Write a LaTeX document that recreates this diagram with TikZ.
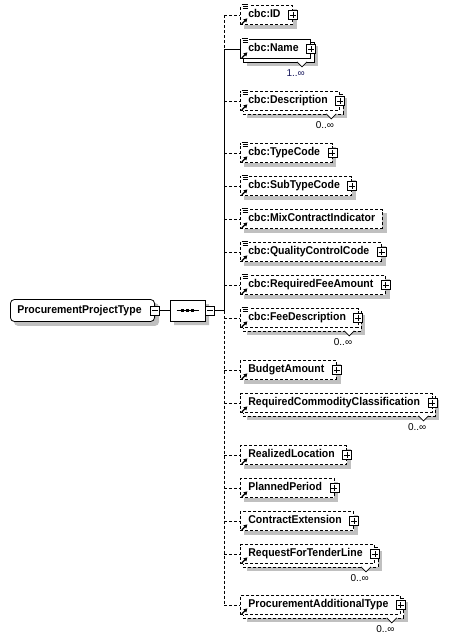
\documentclass[tikz,border=0pt]{standalone}
\usepackage{fontspec}
\setmainfont{Liberation Sans}[FakeStretch=0.93]
\newfontfamily\multfont{Liberation Sans}
\usetikzlibrary{calc,backgrounds,shapes.misc,arrows.meta}
\definecolor{shadowc}{RGB}{192,192,192}
\definecolor{multc}{RGB}{20,20,90}
\tikzset{
  boxline/.style={line width=0.8pt},
  opt/.style={dash pattern=on 3pt off 2pt},
  elbox/.style={boxline, draw, fill=white, inner xsep=0pt, inner ysep=0pt,
    minimum height=19pt, anchor=west, text height=8pt, text depth=2.2pt,
    font=\fontsize{11.3}{13}\selectfont\bfseries},
  pm/.style={draw, fill=white, minimum size=9pt, inner sep=0pt, line width=0.7pt},
  mult/.style={inner sep=0pt, font=\multfont\fontsize{10}{11}\selectfont},
  conn/.style={line width=0.8pt},
}
\newcommand\XShad[1]{%
  \begin{pgfonlayer}{background}
  \fill[shadowc] ($(#1.north west)+(4,4)$) rectangle ($(#1.south east)+(4,4)$);
  \end{pgfonlayer}}
\newcommand\XMulti[3]{%
  \begin{pgfonlayer}{background}
  \fill[shadowc] ($(#1.north west)+(7,7)$) rectangle ($(#1.south east)+(7,7)$);
  \draw[boxline,fill=white,#2] ($(#1.north west)+(3,3)$) rectangle ($(#1.south east)+(3,3)$);
  \draw[line width=0.7pt,fill=white] ($(#1.south east)+(-14,3)$) -- ++(5,5) -- ++(5,-5);
  \end{pgfonlayer}
  \node[mult, anchor=base east] (#1-m) at ($(#1.south east)+(-6,17.5)$) {#3};}
\newcommand\XPlus[1]{%
  \node[pm] (#1-p) at (#1.east) {};
  \draw[line width=0.7pt] ($(#1-p.center)+(-3,0)$) -- ($(#1-p.center)+(3,0)$)
    ($(#1-p.center)+(0,-3)$) -- ($(#1-p.center)+(0,3)$);}
\newcommand\XMinus[2]{%
  \node[pm] (#1) at (#2) {};
  \draw[line width=0.7pt] ($(#1.center)+(-3,0)$) -- ($(#1.center)+(3,0)$);}
\newcommand\XDoc[1]{%
  \fill[white] ($(#1.north west)+(0.8,-2)$) rectangle ($(#1.north west)+(8.5,5)$);
  \draw[line width=0.8pt] ($(#1.north west)+(1.5,-1)$) -- ++(6.5,0)
    ($(#1.north west)+(2.5,1.3)$) -- ++(5.5,0)
    ($(#1.north west)+(2.5,3.6)$) -- ++(5.5,0);}
\newcommand\XRef[1]{%
  \draw[line width=1.3pt,-{Triangle[length=3.5pt,width=4pt]}] ($(#1.south west)+(1.8,-1)$) -- ++(5.5,-5.5);}
\begin{document}
\begin{tikzpicture}[x=1pt,y=-1pt]
\useasboundingbox (0,0) rectangle (453,640);

% root
\node[boxline, draw, fill=white, rounded corners=4pt, minimum height=22pt, inner xsep=0pt,
  anchor=west, text height=8pt, text depth=2.2pt, font=\fontsize{11.3}{13}\selectfont\bfseries]
  (root) at (10,310.5) {\hspace*{7pt}ProcurementProjectType\hspace*{13pt}};
\begin{pgfonlayer}{background}
\fill[shadowc, rounded corners=4pt] ($(root.north west)+(4,4)$) rectangle ($(root.south east)+(4,4)$);
\end{pgfonlayer}
\XMinus{rootm}{root.east}

% sequence
\node[boxline, draw, fill=white, chamfered rectangle, chamfered rectangle xsep=6pt,
  chamfered rectangle ysep=6pt, minimum width=35pt, minimum height=21pt, inner sep=0pt]
  (seq) at (187.5,310.5) {};
\begin{pgfonlayer}{background}
\node[fill=shadowc, chamfered rectangle, chamfered rectangle xsep=6pt,
  chamfered rectangle ysep=6pt, minimum width=35pt, minimum height=21pt, inner sep=0pt]
  (seqs) at (191.5,314.5) {};
\end{pgfonlayer}
\draw[line width=0.8pt] ($(seq.center)+(-11,0)$) -- ($(seq.center)+(11,0)$);
\foreach \dx in {-5,0,5} \fill ($(seq.center)+(\dx-1.6,-1.6)$) rectangle ++(3.2,3.2);
\node[pm, anchor=west] (seqm) at (seq.east) {};
\draw[line width=0.7pt] ($(seqm.center)+(-3,0)$) -- ($(seqm.center)+(3,0)$);
\coordinate (tj) at (224,310.5);
\draw[conn] (rootm.east) -- (seq.west);
\draw[conn] (seqm.east) -- (tj);

% elements
\node[elbox,opt] (id) at (240,15) {\hspace*{8pt}cbc:ID\hspace*{12pt}};
\XShad{id}\XDoc{id}\XRef{id}\XPlus{id}

\node[elbox] (name) at (240,49) {\hspace*{8pt}cbc:Name\hspace*{12pt}};
\XMulti{name}{}{\textcolor{multc}{1..∞}}\XDoc{name}\XRef{name}\XPlus{name}

\node[elbox,opt] (desc) at (240,101) {\hspace*{8pt}cbc:Description\hspace*{12pt}};
\XMulti{desc}{opt}{0..∞}\XDoc{desc}\XRef{desc}\XPlus{desc}

\node[elbox,opt] (tc) at (240,153) {\hspace*{8pt}cbc:TypeCode\hspace*{12pt}};
\XShad{tc}\XDoc{tc}\XRef{tc}\XPlus{tc}

\node[elbox,opt] (stc) at (240,186) {\hspace*{8pt}cbc:SubTypeCode\hspace*{12pt}};
\XShad{stc}\XDoc{stc}\XRef{stc}\XPlus{stc}

\node[elbox,opt] (mix) at (240,219) {\hspace*{8pt}cbc:MixContractIndicator\hspace*{7pt}};
\XShad{mix}\XDoc{mix}\XRef{mix}

\node[elbox,opt] (qcc) at (240,252) {\hspace*{8pt}cbc:QualityControlCode\hspace*{12pt}};
\XShad{qcc}\XDoc{qcc}\XRef{qcc}\XPlus{qcc}

\node[elbox,opt] (rfa) at (240,285) {\hspace*{8pt}cbc:RequiredFeeAmount\hspace*{12pt}};
\XShad{rfa}\XDoc{rfa}\XRef{rfa}\XPlus{rfa}

\node[elbox,opt] (fd) at (240,318) {\hspace*{8pt}cbc:FeeDescription\hspace*{12pt}};
\XMulti{fd}{opt}{0..∞}\XDoc{fd}\XRef{fd}\XPlus{fd}

\node[elbox,opt] (ba) at (240,370) {\hspace*{8pt}BudgetAmount\hspace*{12pt}};
\XShad{ba}\XRef{ba}\XPlus{ba}

\node[elbox,opt] (rcc) at (240,403) {\hspace*{8pt}RequiredCommodityClassification\hspace*{12pt}};
\XMulti{rcc}{opt}{0..∞}\XRef{rcc}\XPlus{rcc}

\node[elbox,opt] (rl) at (240,455) {\hspace*{8pt}RealizedLocation\hspace*{12pt}};
\XShad{rl}\XRef{rl}\XPlus{rl}

\node[elbox,opt] (pp) at (240,488) {\hspace*{8pt}PlannedPeriod\hspace*{12pt}};
\XShad{pp}\XRef{pp}\XPlus{pp}

\node[elbox,opt] (ce) at (240,521) {\hspace*{8pt}ContractExtension\hspace*{12pt}};
\XShad{ce}\XRef{ce}\XPlus{ce}

\node[elbox,opt] (rftl) at (240,554) {\hspace*{8pt}RequestForTenderLine\hspace*{12pt}};
\XMulti{rftl}{opt}{0..∞}\XRef{rftl}\XPlus{rftl}

\node[elbox,opt] (pat) at (240,605) {\hspace*{8pt}ProcurementAdditionalType\hspace*{12pt}};
\XMulti{pat}{opt}{0..∞}\XRef{pat}\XPlus{pat}

% trunk
\draw[conn,opt] (id.west -| tj) -- (name.west -| tj);
\draw[conn] (name.west -| tj) -- (tj);
\draw[conn,opt] (tj) -- (pat.west -| tj);

% branches
\draw[conn,opt] (id.west -| tj) -- (id.west);
\draw[conn] (name.west -| tj) -- (name.west);
\foreach \n in {desc,tc,stc,mix,qcc,rfa,fd,ba,rcc,rl,pp,ce,rftl,pat}
  \draw[conn,opt] (\n.west -| tj) -- (\n.west);
\end{tikzpicture}
\end{document}
